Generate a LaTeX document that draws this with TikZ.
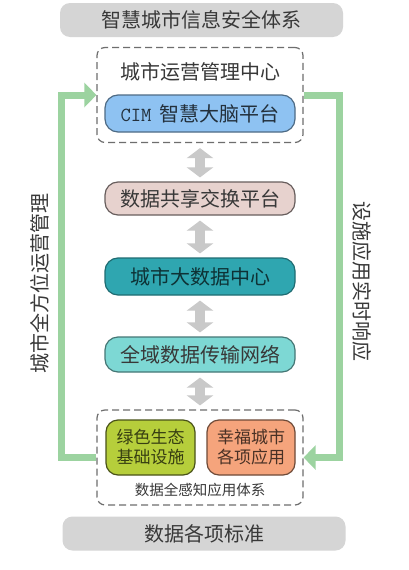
\documentclass[tikz,border=0pt]{standalone}
\usepackage{fontspec}
\setmainfont{Noto Sans CJK SC}
\usetikzlibrary{arrows.meta}
\definecolor{bargray}{HTML}{D5D5D5}
\definecolor{framegray}{HTML}{6E6E6E}
\definecolor{textgray}{HTML}{383838}
\definecolor{arrowgray}{HTML}{C9C9C9}
\definecolor{loopgreen}{HTML}{9CD3A0}
\definecolor{cimblue}{HTML}{8EC2F2}
\definecolor{sharepink}{HTML}{E7D2CE}
\definecolor{datateal}{HTML}{2FA6B0}
\definecolor{netcyan}{HTML}{7DD8D4}
\definecolor{ecogreen}{HTML}{B6CE3B}
\definecolor{cityorange}{HTML}{F5A47C}
\begin{document}
\begin{tikzpicture}[x=1pt,y=-1pt]
\tikzstyle{every node}=[text=textgray,inner sep=0pt]
\tikzstyle{bar}=[fill=bargray,rounded corners=10pt,minimum width=283pt,minimum height=34pt,font=\fontsize{20}{24}\selectfont]
\tikzstyle{dashframe}=[draw=framegray,dash pattern=on 7pt off 4pt,line width=1.2pt,rounded corners=8pt,minimum width=206pt,minimum height=95pt]
\tikzstyle{layerbox}=[draw,line width=1.2pt,rounded corners=13pt,minimum width=190pt,minimum height=35pt,font=\fontsize{20}{24}\selectfont]
\tikzstyle{appbox}=[draw,line width=1.2pt,rounded corners=12pt,minimum width=88pt,minimum height=55pt,align=center,font=\fontsize{17}{20}\selectfont]
\tikzstyle{dbl}=[draw=arrowgray,line width=10pt,{Triangle[length=10pt,width=26pt]}-{Triangle[length=10pt,width=26pt]},shorten <=5pt,shorten >=4pt]
\tikzstyle{feedback}=[draw=loopgreen,line width=7pt,-{Triangle[length=12pt,width=24pt]}]
\fill[white] (0,0) rectangle (409,570);
\useasboundingbox (0,0) rectangle (409,570);
% top and bottom bars
\node[bar](safety) at (201.5,20) {智慧城市信息安全体系};
\node[bar](standard) at (204,533.5) {数据各项标准};
% operation center
\node[dashframe](ops) at (200,95) {};
\node[font=\fontsize{20}{24}\selectfont](opstitle) at (200,72) {城市运营管理中心};
\node[layerbox,fill=cimblue,draw=cimblue!55!black,minimum height=37pt,text=cimblue!25!black](cim) at (200,113.5) {{\ttfamily CIM}\hspace{8pt}智慧大脑平台};
% data layers
\node[layerbox,fill=sharepink,draw=sharepink!45!black,minimum height=33pt](share) at (200,198.5) {数据共享交换平台};
\node[layerbox,fill=datateal,draw=datateal!65!black,minimum height=37pt,text=datateal!30!black](bigdata) at (200,276.5) {城市大数据中心};
\node[layerbox,fill=netcyan,draw=netcyan!55!black](net) at (200,354.5) {全域数据传输网络};
% sensing layer
\node[dashframe](sense) at (200,457.5) {};
\node[appbox,fill=ecogreen,draw=ecogreen!40!black,minimum width=89pt,text=ecogreen!30!black](eco) at (150.5,447.5) {绿色生态\\基础设施};
\node[appbox,fill=cityorange,draw=cityorange!45!black,text=cityorange!30!black](happy) at (251,447.5) {幸福城市\\各项应用};
\node[font=\fontsize{14.5}{17}\selectfont](sensetitle) at (200,490) {数据全感知应用体系};
% side labels
\node[rotate=90,font=\fontsize{20}{24}\selectfont](leftlabel) at (40,283) {城市全方位运营管理};
\node[rotate=-90,font=\fontsize{20}{24}\selectfont](rightlabel) at (362,281) {设施应用实时响应};
% arrows
\draw[dbl] (ops.south) -- (share.north);
\draw[dbl] (share.south) -- (bigdata.north);
\draw[dbl] (bigdata.south) -- (net.north);
\draw[dbl] (net.south) -- (sense.north);
\draw[feedback] (sense.west) -- ++(-35,0) |- (ops.west);
\draw[feedback] (ops.east) -- ++(36,0) |- (sense.east);
\end{tikzpicture}
\end{document}
